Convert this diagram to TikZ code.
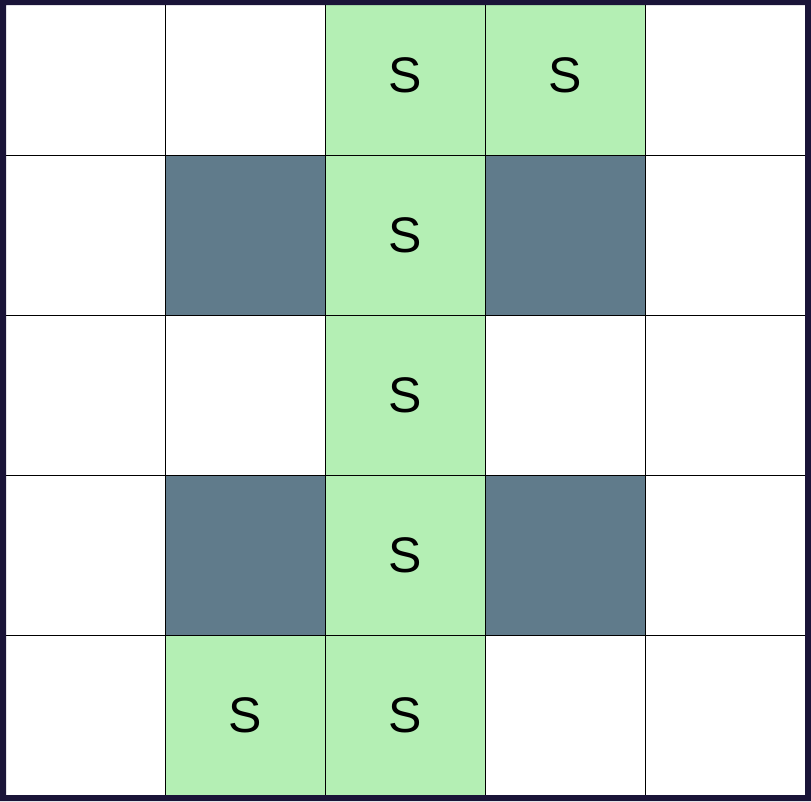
\documentclass[tikz,border=0pt]{standalone}
\usepackage{fontspec}
\setmainfont{Liberation Sans}
\definecolor{frame}{HTML}{1A1438}
\definecolor{cellgreen}{HTML}{B4EFB4}
\definecolor{celldark}{HTML}{607B8B}
\begin{document}
\begin{tikzpicture}[x=1pt,y=-1pt,
  cell/.style={draw=black,line width=1pt,minimum size=160pt,inner sep=0pt,anchor=center,font=\fontsize{50}{50}\selectfont},
  wcell/.style={cell,fill=white,node contents={}},
  gcell/.style={cell,fill=cellgreen,node contents={S}},
  dcell/.style={cell,fill=celldark,node contents={}}]
\useasboundingbox (0,0) rectangle (811,801);
\begin{scope}
\clip (6,5) rectangle (805,795);
\foreach \r/\row in {0/{wcell,wcell,gcell,gcell,wcell},1/{wcell,dcell,gcell,dcell,wcell},2/{wcell,wcell,gcell,wcell,wcell},3/{wcell,dcell,gcell,dcell,wcell},4/{wcell,gcell,gcell,wcell,wcell}} {
  \foreach \t [count=\c from 0] in \row {
    \node (c\r\c) at (85+160*\c,75+160*\r) [\t];
  }
}
\end{scope}
\fill[frame,even odd rule] (0,0) rectangle (811,801) (6,5) rectangle (805,795);
\end{tikzpicture}
\end{document}
